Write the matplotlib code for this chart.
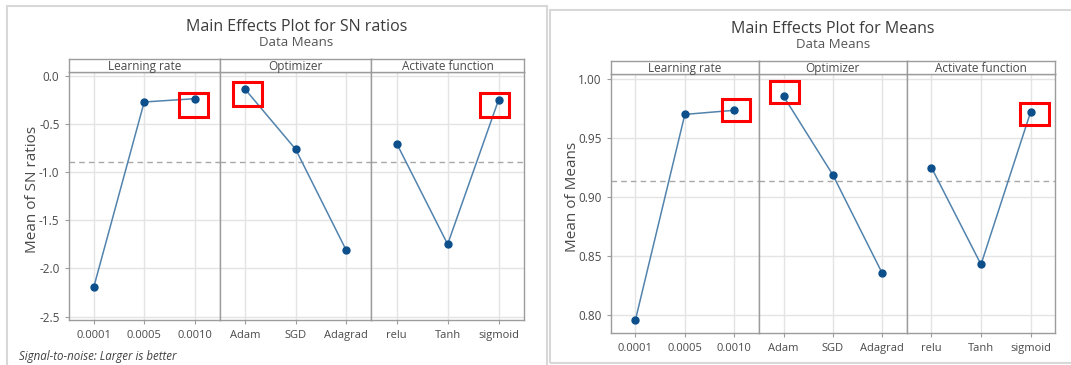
import matplotlib.pyplot as plt
from matplotlib.patches import Rectangle

W, H = 1071, 365

# factor levels
factors = ['Learning rate', 'Optimizer', 'Activate function']
levels = [['0.0001', '0.0005', '0.0010'],
          ['Adam', 'SGD', 'Adagrad'],
          ['relu', 'Tanh', 'sigmoid']]

# main effects, signal-to-noise ratios
sn_lr = [-2.195, -0.273, -0.239]
sn_opt = [-0.141, -0.763, -1.808]
sn_act = [-0.705, -1.749, -0.252]
sn_mean = -0.90

# main effects, means
mean_lr = [0.796, 0.970, 0.9735]
mean_opt = [0.9853, 0.9188, 0.8358]
mean_act = [0.925, 0.843, 0.9718]
mean_mean = 0.9133

# best level per factor (highlighted)
best = [2, 0, 2]

sn_ticks = [0.0, -0.5, -1.0, -1.5, -2.0, -2.5]
mean_ticks = [1.00, 0.95, 0.90, 0.85, 0.80]

LINE = '#5283ad'
DOT = '#0d4f8b'
FRAME = '#9c9c9c'
GRID = '#e4e4e4'
TEXT = '#4a4a4a'

plt.rcParams['font.family'] = ['Open Sans', 'DejaVu Sans']

fig = plt.figure(figsize=(W / 100, H / 100), dpi=100)


def fx(x):
    return x / W


def fy(y):
    return 1 - y / H


def frame(x0, y0, x1, y1):
    fig.patches.append(Rectangle((fx(x0), fy(y1)), fx(x1) - fx(x0), fy(y0) - fy(y1),
                                 transform=fig.transFigure, fill=False,
                                 edgecolor='#d8d8d8', lw=1.5))


def draw_chart(edges, strip_top, top, bottom, ylim, yticks, fmt, series, mean,
               title, ylabel, ylabel_xy, boxes):
    axes = []
    for i, (name, labs, vals) in enumerate(zip(factors, levels, series)):
        x0, x1 = edges[i], edges[i + 1]
        ax = fig.add_axes([fx(x0), fy(bottom), fx(x1) - fx(x0), fy(top) - fy(bottom)])
        xs = range(len(vals))
        ax.set_xlim(-0.5, 2.5)
        ax.set_ylim(*ylim)
        ax.set_yticks(yticks)
        ax.set_xticks(list(xs))
        ax.set_xticklabels(labs)
        ax.grid(True, color=GRID, lw=1.0)
        ax.set_axisbelow(True)
        ax.axhline(mean, color='#a8a8a8', lw=1.0, ls=(0, (4, 3)), zorder=1)
        ax.plot(xs, vals, color=LINE, lw=1.1, zorder=2)
        ax.plot(xs, vals, 'o', color=DOT, ms=5, zorder=3)
        for s in ax.spines.values():
            s.set_color(FRAME)
            s.set_linewidth(1.0)
        ax.tick_params(axis='x', length=3, color=FRAME, labelsize=8, labelcolor=TEXT, pad=4)
        if i == 0:
            ax.set_yticklabels([fmt.format(t) for t in yticks])
            ax.tick_params(axis='y', length=3, color=FRAME, labelsize=8.5, labelcolor=TEXT)
        else:
            ax.tick_params(axis='y', length=0, labelleft=False)
        # strip with factor name
        sx = fig.add_axes([fx(x0), fy(top), fx(x1) - fx(x0), fy(strip_top) - fy(top)])
        sx.set_xticks([])
        sx.set_yticks([])
        for s in sx.spines.values():
            s.set_color(FRAME)
            s.set_linewidth(1.0)
        sx.text(0.5, 0.42, name, ha='center', va='center', fontsize=8.5, color=TEXT,
                transform=sx.transAxes)
        axes.append(ax)

    fig.text(fx(ylabel_xy[0]), fy(ylabel_xy[1]), ylabel, rotation=90, ha='center',
             va='center', fontsize=11, color=TEXT)

    cx = (edges[0] + edges[-1]) / 2
    fig.text(fx(cx), fy(strip_top - 28), title, ha='center', va='baseline',
             fontsize=11.5, color='#3c3c3c')
    fig.text(fx(cx), fy(strip_top - 13), 'Data Means', ha='center', va='baseline',
             fontsize=9.5, color='#555555')

    # red boxes round the best level of each factor, offsets in pixels
    fig.canvas.draw()
    for ax, vals, k, (dl, dr, dt, db) in zip(axes, series, best, boxes):
        px, py = ax.transData.transform((k, vals[k]))
        fig.patches.append(Rectangle((px - dl, py - db), dl + dr, dt + db,
                                     transform=None, fill=False,
                                     edgecolor='#ff0000', lw=2.2, zorder=10))


frame(7, 6, 547, 372)
frame(550, 10, 1075, 363)

draw_chart([68.5, 219.9, 371.3, 524], 59, 72.3, 320, (-2.535, 0.035), sn_ticks, '{:.1f}',
           [sn_lr, sn_opt, sn_act], sn_mean, 'Main Effects Plot for SN ratios',
           'Mean of SN ratios', (32, 189),
           [(16, 13, 6, 18), (12, 17, 7, 17), (19, 10, 7, 17)])

draw_chart([610.7, 759, 906.7, 1055.3], 61, 74, 333, (0.785, 1.0042), mean_ticks, '{:.2f}',
           [mean_lr, mean_opt, mean_act], mean_mean, 'Main Effects Plot for Means',
           'Mean of Means', (573, 197),
           [(12, 16, 11, 11), (14, 15, 15, 7), (11, 18, 9, 13)])

fig.text(fx(19), fy(360), 'Signal-to-noise: Larger is better', fontsize=8.3,
         style='italic', color='#404040')

fig.savefig('out.png', dpi=100)
